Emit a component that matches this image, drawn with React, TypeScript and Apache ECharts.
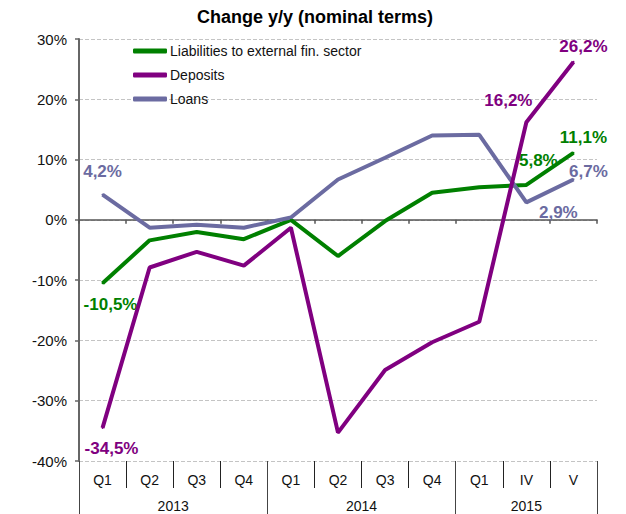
import React, { useEffect, useRef } from "react";
import * as echarts from "echarts";

const quarters = ["Q1", "Q2", "Q3", "Q4", "Q1", "Q2", "Q3", "Q4", "Q1", "IV", "V"];
const years = ["2013", "2014", "2015"];
const yearSpans = [4, 4, 3];
const seriesNames = ["Liabilities to external fin. sector", "Deposits", "Loans"];
const liabilities = [-10.5, -3.4, -2.0, -3.2, 0.0, -6.0, -0.2, 4.5, 5.4, 5.8, 11.1];
const deposits = [-34.5, -7.9, -5.3, -7.6, -1.3, -35.3, -24.9, -20.3, -16.9, 16.2, 26.2];
const loans = [4.2, -1.3, -0.8, -1.3, 0.4, 6.7, 10.3, 14.0, 14.1, 2.9, 6.7];

const colors = ["#008000", "#800080", "#6B6BA1"];
// label offsets (style only) for labelled points
const labelOffsets: Record<number, Record<number, [number, number]>> = {
  0: { 0: [8, 21], 9: [12, -24], 10: [10, -15] },
  1: { 0: [9, 21], 9: [-18, -22], 10: [10, -15] },
  2: { 0: [0, -23], 9: [32, 10], 10: [15, -8] },
};

const FONT = "'Liberation Sans', Arial, sans-serif";

function fmt(v: number) {
  return v.toFixed(1).replace(".", ",") + "%";
}

export default function App() {
  const ref = useRef<HTMLDivElement>(null);
  useEffect(() => {
    if (!ref.current) return;
    const chart = echarts.init(ref.current, null, { renderer: "svg" });

    const yearBounds: number[] = [0];
    const yearCenters: number[] = [];
    let acc = 0;
    yearSpans.forEach((s) => {
      yearCenters.push(acc + s / 2);
      acc += s;
      yearBounds.push(acc);
    });

    const allData = [liabilities, deposits, loans];
    const series = allData.map((arr, si) => ({
      name: seriesNames[si],
      type: "line",
      xAxisIndex: 0,
      yAxisIndex: 0,
      symbol: "circle",
      symbolSize: 2,
      showSymbol: true,
      lineStyle: { width: 4, color: colors[si] },
      itemStyle: { color: colors[si] },
      z: 3 + (si === 1 ? 1 : 0),
      data: arr.map((v, i) => {
        const off = labelOffsets[si][i];
        if (!off) return v;
        return {
          value: v,
          label: {
            show: true,
            position: "inside",
            offset: off,
            formatter: () => fmt(v),
            color: colors[si],
            fontWeight: "bold",
            fontSize: 17,
            fontFamily: FONT,
          },
        };
      }),
    }));

    chart.setOption({
      animation: false,
      title: {
        text: "Change y/y (nominal terms)",
        left: 310,
        textAlign: "center",
        top: 3,
        textStyle: { fontSize: 18, fontWeight: "bold", color: "#000", fontFamily: FONT },
      },
      legend: {
        data: seriesNames,
        orient: "vertical",
        left: 133,
        top: 44,
        padding: 0,
        itemWidth: 34,
        itemHeight: 5,
        itemGap: 10,
        icon: "roundRect",
        textStyle: { fontSize: 14, color: "#111", fontFamily: FONT, padding: [0, 0, 0, -2] },
      },
      grid: { left: 79, right: 29, top: 39, bottom: 53, containLabel: false },
      xAxis: [
        {
          type: "category",
          data: quarters,
          position: "bottom",
          boundaryGap: true,
          axisLine: { onZero: true, lineStyle: { color: "#555", width: 1.5 } },
          axisTick: { show: true, length: 4, lineStyle: { color: "#555", width: 1.5 } },
          axisLabel: { show: false },
          splitLine: { show: false },
          z: 2,
        },
        {
          type: "category",
          data: quarters,
          position: "bottom",
          boundaryGap: true,
          axisLine: { show: false, onZero: false },
          axisTick: { show: true, length: 27, lineStyle: { color: "#222", width: 1 } },
          axisLabel: { show: true, margin: 12, fontSize: 14, color: "#111", fontFamily: FONT },
          splitLine: { show: false },
        },
        {
          type: "value",
          min: 0,
          max: quarters.length,
          position: "bottom",
          axisLine: { show: false, onZero: false },
          axisTick: {
            show: true,
            length: 53,
            customValues: yearBounds,
            lineStyle: { color: "#444", width: 1 },
          },
          axisLabel: {
            show: true,
            margin: 38,
            fontSize: 14,
            color: "#111",
            fontFamily: FONT,
            customValues: yearCenters,
            formatter: (v: number) => {
              const idx = yearCenters.findIndex((c) => Math.abs(c - v) < 1e-6);
              return idx >= 0 ? years[idx] : "";
            },
          },
          splitLine: { show: false },
        },
      ],
      yAxis: {
        type: "value",
        min: -40,
        max: 30,
        interval: 10,
        axisLine: { show: true, lineStyle: { color: "#666", width: 2 } },
        axisTick: { show: true, length: 4, lineStyle: { color: "#666", width: 1.5 } },
        axisLabel: {
          formatter: (v: number) => `${v}%`,
          fontSize: 15,
          color: "#111",
          margin: 12,
          fontFamily: FONT,
        },
        splitLine: { show: true, lineStyle: { type: "dashed", color: "#c4c4c4", width: 1 } },
      },
      series,
    });

    return () => chart.dispose();
  }, []);

  return (
    <div
      ref={ref}
      style={{ position: "absolute", left: 0, top: 0, width: 626, height: 514, background: "#fff" }}
    />
  );
}
